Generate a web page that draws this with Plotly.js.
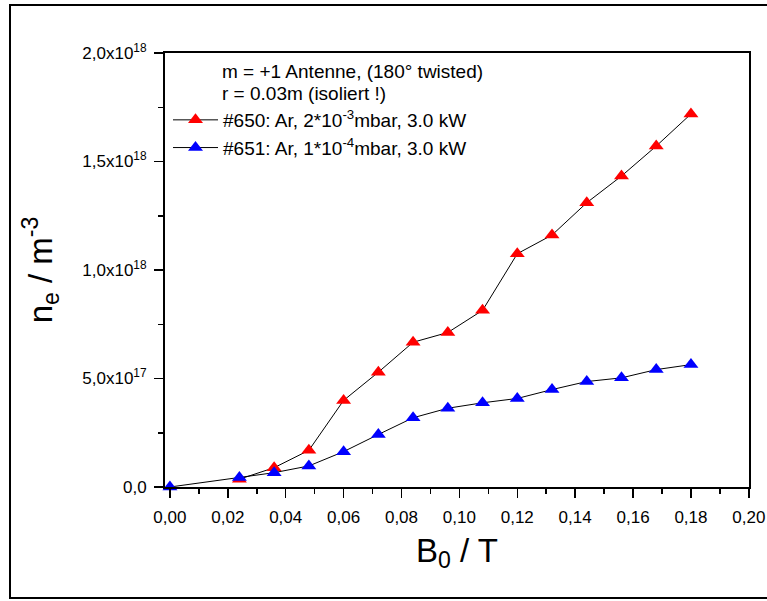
<!DOCTYPE html>
<html>
<head>
<meta charset="utf-8">
<script src="https://cdn.plot.ly/plotly-3.0.1.min.js"></script>
<style>html,body{margin:0;padding:0;background:#fff;}#chart{width:767px;height:601px;}</style>
</head>
<body>
<div id="chart"></div>
<script>
const B0 = [0.000, 0.024, 0.036, 0.048, 0.060, 0.072, 0.084, 0.096, 0.108, 0.120, 0.132, 0.144, 0.156, 0.168, 0.180];
const ne650 = [0.00e17, 0.36e17, 0.89e17, 1.69e17, 3.99e17, 5.29e17, 6.67e17, 7.12e17, 8.14e17, 10.75e17, 11.61e17, 13.10e17, 14.33e17, 15.71e17, 17.19e17];
const ne651 = [0.00e17, 0.44e17, 0.66e17, 0.97e17, 1.63e17, 2.42e17, 3.19e17, 3.63e17, 3.88e17, 4.08e17, 4.49e17, 4.86e17, 5.03e17, 5.41e17, 5.64e17];
const name650 = "#650: Ar, 2*10<sup>-3</sup>mbar, 3.0 kW";
const name651 = "#651: Ar, 1*10<sup>-4</sup>mbar, 3.0 kW";
const xTickVals = [0, 0.02, 0.04, 0.06, 0.08, 0.10, 0.12, 0.14, 0.16, 0.18, 0.20];
const xTickText = ["0,00", "0,02", "0,04", "0,06", "0,08", "0,10", "0,12", "0,14", "0,16", "0,18", "0,20"];
const yTickVals = [0, 5e17, 1e18, 1.5e18, 2e18];
const yTickText = ["0,0", "5,0x10<sup>17</sup>", "1,0x10<sup>18</sup>", "1,5x10<sup>18</sup>", "2,0x10<sup>18</sup>"];
const infoLines = ["m = +1 Antenne, (180° twisted)", "r = 0.03m (isoliert !)"];

const FONT = "Liberation Sans, Arial, Helvetica, sans-serif";
const W = 767, H = 601;
const M = {l: 165, r: 18, t: 53, b: 114};
const pw = W - M.l - M.r, ph = H - M.t - M.b;
const px = v => (v - M.l) / pw;
const py = v => (H - M.b - v) / ph;

const traces = [
  {x: B0.slice(1), y: ne650.slice(1), name: name650, mode: "lines+markers", type: "scatter",
   line: {color: "#000", width: 1}, marker: {symbol: "triangle-up", size: 13, color: "#ff0000"}, cliponaxis: false},
  {x: B0, y: ne651, name: name651, mode: "lines+markers", type: "scatter",
   line: {color: "#000", width: 1}, marker: {symbol: "triangle-up", size: 13, color: "#0000ff"}, cliponaxis: false}
];

const axisCommon = {showgrid: false, zeroline: false, showline: true, linecolor: "#000", linewidth: 2,
  mirror: true, ticks: "outside", ticklen: 9, tickwidth: 1.5, tickcolor: "#000",
  tickfont: {family: FONT, size: 17, color: "#000"}};

const layout = {
  width: W, height: H,
  margin: M,
  paper_bgcolor: "#fff", plot_bgcolor: "#fff",
  font: {family: FONT, color: "#000"},
  showlegend: true,
  legend: {x: px(168), y: py(101), xanchor: "left", yanchor: "top", bgcolor: "rgba(0,0,0,0)",
    font: {family: FONT, size: 19, color: "#000"}, tracegroupgap: 0, itemwidth: 45},
  xaxis: Object.assign({}, axisCommon, {range: [-0.0017, 0.20005], tickmode: "array", tickvals: xTickVals, ticktext: xTickText,
    ticklabelstandoff: 5,
    minor: {ticks: "outside", ticklen: 5, tickwidth: 1.5, tickcolor: "#000", dtick: 0.01, tick0: 0},
    title: {text: "B<sub>0</sub> / T", font: {family: FONT, size: 33, color: "#000"}, standoff: 12}}),
  yaxis: Object.assign({}, axisCommon, {range: [0, 2e18], tickmode: "array", tickvals: yTickVals, ticktext: yTickText,
    ticklabelstandoff: 4,
    minor: {ticks: "outside", ticklen: 5, tickwidth: 1.5, tickcolor: "#000", dtick: 2.5e17, tick0: 0},
    title: {text: "n<sub>e</sub> / m<sup>-3</sup>", font: {family: FONT, size: 33, color: "#000"}, standoff: 20}}),
  annotations: infoLines.map((t, i) => ({text: t, xref: "paper", yref: "paper", x: px(220), y: py(71 + i * 22),
    xanchor: "left", yanchor: "middle", showarrow: false, font: {family: FONT, size: 19, color: "#000"}})),
  shapes: [{type: "rect", xref: "paper", yref: "paper", x0: px(10), x1: px(790), y0: py(598), y1: py(5),
    line: {color: "#000", width: 2}, fillcolor: "rgba(0,0,0,0)", layer: "above"}]
};

Plotly.newPlot("chart", traces, layout, {displayModeBar: false, staticPlot: true});
</script>
</body>
</html>
